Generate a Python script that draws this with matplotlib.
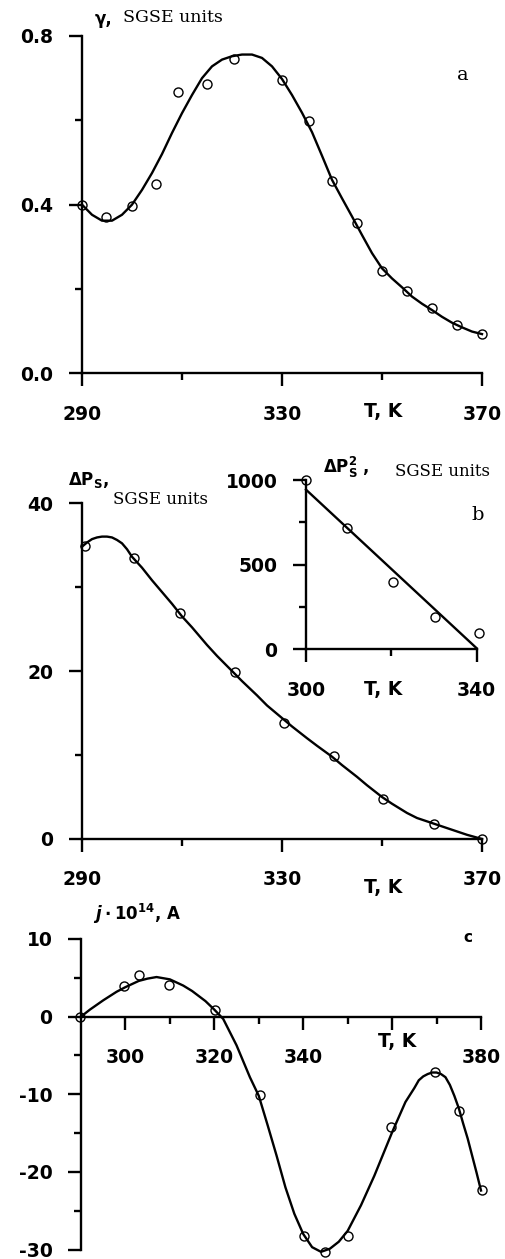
import matplotlib
matplotlib.use("Agg")
import matplotlib.pyplot as plt

plt.rcParams['mathtext.fontset'] = 'custom'
plt.rcParams['mathtext.rm'] = 'DejaVu Sans:bold'
plt.rcParams['mathtext.it'] = 'DejaVu Sans:italic:bold'
plt.rcParams['mathtext.bf'] = 'DejaVu Sans:bold'

# panel a: gamma(T), measured points and drawn curve
t_a = [290, 294.8, 300, 304.7, 309.1, 315, 320.3, 330, 335.3, 340, 345, 350, 355, 360, 365, 370]
gamma_a = [0.40, 0.371, 0.397, 0.45, 0.668, 0.687, 0.746, 0.696, 0.599, 0.456, 0.357,
           0.243, 0.195, 0.156, 0.114, 0.093]
t_a_curve = [290, 292, 294, 296, 298, 300, 302, 304, 306, 308, 310, 312, 314, 316, 318, 320,
             322, 324, 326, 328, 330, 332, 334, 336, 338, 340, 342, 344, 346, 348, 350, 352,
             354, 356, 358, 360, 362, 364, 366, 368, 370]
gamma_a_curve = [0.400, 0.376, 0.362, 0.362, 0.376, 0.400, 0.435, 0.475, 0.520, 0.570, 0.617,
                 0.660, 0.700, 0.728, 0.744, 0.752, 0.756, 0.756, 0.748, 0.728, 0.698, 0.660,
                 0.618, 0.572, 0.516, 0.459, 0.415, 0.372, 0.328, 0.285, 0.249, 0.225, 0.204,
                 0.182, 0.165, 0.150, 0.134, 0.120, 0.109, 0.099, 0.093]

# panel b: delta Ps(T)
t_b = [290.6, 300.3, 309.5, 320.5, 330.3, 340.3, 350.1, 360.3, 370]
dps_b = [34.9, 33.4, 26.9, 19.9, 13.8, 9.9, 4.8, 1.8, 0.0]
t_b_curve = [290, 291, 292, 293, 294, 295, 296, 297, 298, 299, 300, 302, 304, 306, 308, 310,
             312, 315, 317, 320, 322, 325, 327, 330, 332, 335, 337, 340, 342, 345, 347, 350,
             352, 355, 357, 360, 362, 365, 367, 370]
dps_b_curve = [34.8, 35.3, 35.7, 35.9, 36.0, 36.0, 35.9, 35.6, 35.2, 34.5, 33.6, 32.3, 30.8,
               29.4, 28.0, 26.5, 25.2, 23.1, 21.8, 20.0, 18.8, 17.1, 15.9, 14.4, 13.4, 12.0,
               11.1, 9.8, 8.8, 7.4, 6.4, 5.0, 4.2, 3.1, 2.5, 1.9, 1.5, 0.9, 0.5, 0.0]

# inset: delta Ps^2(T)
t_in = [300.1, 309.5, 320.3, 330.2, 340.5]
dps2_in = [1000, 719, 400, 193, 95]
t_in_line = [300, 340]
dps2_in_line = [943, 6]

# panel c: j(T)
t_c = [289.8, 299.7, 303.1, 309.7, 320.1, 330.2, 340.2, 345, 350.1, 359.7, 369.7, 375, 380.2]
j_c = [0.0, 3.9, 5.4, 4.1, 0.9, -10.1, -28.2, -30.3, -28.2, -14.2, -7.1, -12.2, -22.3]
t_c_curve = [290, 292, 295, 298, 300, 303, 305, 307, 310, 313, 315, 318, 320, 322, 325, 328,
             330, 332, 334, 336, 338, 340, 342, 344, 346, 348, 350, 353, 356, 360, 363, 365,
             366, 367, 368, 369, 370, 371, 372, 373, 374, 375, 376, 377, 378, 379, 380]
j_c_curve = [0.0, 0.9, 2.1, 3.2, 3.8, 4.6, 4.9, 5.1, 4.8, 4.0, 3.3, 2.0, 0.9, -0.3, -3.7,
             -7.8, -10.2, -14.0, -17.9, -22.0, -25.4, -28.0, -29.7, -30.3, -29.9, -29.0,
             -27.6, -24.3, -20.5, -14.9, -11.0, -9.2, -8.2, -7.7, -7.4, -7.2, -7.2, -7.4,
             -7.8, -8.8, -10.2, -11.8, -13.8, -15.7, -17.9, -20.1, -22.4]

W, H = 505, 1259
fig = plt.figure(figsize=(W / 100, H / 100), dpi=100)
fig.patch.set_facecolor('white')

LW = 1.7
TICKFONT = dict(family='DejaVu Sans', weight='bold', size=13.5)


def px(x, y):
    return x / W, 1 - y / H


def rect(x0, y0, x1, y1):
    return [x0 / W, 1 - y1 / H, (x1 - x0) / W, (y1 - y0) / H]


def style(ax, xmaj, xmin, ymaj, ymin, xlabels, ylabels):
    for s in ['top', 'right']:
        ax.spines[s].set_visible(False)
    for s in ['left', 'bottom']:
        ax.spines[s].set_linewidth(LW)
    ax.set_xticks(xmaj)
    ax.set_xticks(xmin, minor=True)
    ax.set_yticks(ymaj)
    ax.set_yticks(ymin, minor=True)
    ax.set_xticklabels(xlabels, fontdict=TICKFONT)
    ax.set_yticklabels(ylabels, fontdict=TICKFONT)
    ax.tick_params(which='major', direction='out', length=9.5, width=LW)
    ax.tick_params(which='minor', direction='out', length=5, width=LW)
    ax.tick_params(axis='x', which='major', pad=13)
    ax.tick_params(axis='y', which='major', pad=11)
    ax.set_facecolor('none')


def plot_data(ax, tc, yc, tp, yp):
    ax.plot(tc, yc, color='black', lw=LW, clip_on=False, zorder=2)
    ax.plot(tp, yp, 'o', ms=6.5, mfc='none', mec='black', mew=1.0, clip_on=False, zorder=3)


# ---- panel a
ax_a = fig.add_axes(rect(82, 36, 482, 373.3))
plot_data(ax_a, t_a_curve, gamma_a_curve, t_a, gamma_a)
ax_a.set_xlim(290, 370)
ax_a.set_ylim(0, 0.8)
style(ax_a, [290, 330, 370], [310, 350], [0, 0.4, 0.8], [0.2, 0.6],
      ['290', '330', '370'], ['0.0', '0.4', '0.8'])
fig.text(*px(95, 19), 'γ,', ha='left', va='center', family='DejaVu Sans', weight='bold', size=12)
fig.text(*px(123, 18), 'SGSE units', ha='left', va='center', family='DejaVu Serif', size=12.5)
fig.text(*px(463, 75), 'a', ha='center', va='center', family='DejaVu Serif', size=14)
fig.text(*px(383, 412), 'T, K', ha='center', va='center', **TICKFONT)

# ---- panel b
ax_b = fig.add_axes(rect(82, 503, 482, 839))
plot_data(ax_b, t_b_curve, dps_b_curve, t_b, dps_b)
ax_b.set_xlim(290, 370)
ax_b.set_ylim(0, 40)
style(ax_b, [290, 330, 370], [310, 350], [0, 20, 40], [10, 30],
      ['290', '330', '370'], ['0', '20', '40'])
fig.text(*px(68, 480), r'$\mathrm{\Delta P_S}$,', ha='left', va='center', size=12, weight='bold')
fig.text(*px(113, 499), 'SGSE units', ha='left', va='center', family='DejaVu Serif', size=12)
fig.text(*px(478, 515), 'b', ha='center', va='center', family='DejaVu Serif', size=14)
fig.text(*px(383, 887), 'T, K', ha='center', va='center', **TICKFONT)

# ---- inset of panel b
ax_in = fig.add_axes(rect(306, 480, 476.7, 649.3))
ax_in.plot(t_in_line, dps2_in_line, color='black', lw=LW, clip_on=False, zorder=2)
ax_in.plot(t_in, dps2_in, 'o', ms=6.5, mfc='none', mec='black', mew=1.0, clip_on=False, zorder=3)
ax_in.set_xlim(300, 340)
ax_in.set_ylim(0, 1000)
style(ax_in, [300, 340], [320], [0, 500, 1000], [250, 750],
      ['300', '340'], ['0', '500', '1000'])
fig.text(*px(323, 467), r'$\mathrm{\Delta P_S^2}$ ,', ha='left', va='center', size=12,
         weight='bold')
fig.text(*px(395, 472), 'SGSE units', ha='left', va='center', family='DejaVu Serif', size=12)
fig.text(*px(383, 690), 'T, K', ha='center', va='center', **TICKFONT)

# ---- panel c (x axis runs along j = 0)
ax_c = fig.add_axes(rect(81, 939, 481, 1249.5))
ax_c.spines['bottom'].set_position(('data', 0))
plot_data(ax_c, t_c_curve, j_c_curve, t_c, j_c)
ax_c.set_xlim(290, 380)
ax_c.set_ylim(-30, 10)
style(ax_c, [300, 320, 340, 360, 380], [310, 330, 350, 370], [-30, -20, -10, 0, 10],
      [-25, -15, -5, 5], ['300', '320', '340', '', '380'], ['-30', '-20', '-10', '0', '10'])
fig.text(*px(93, 914), r'$j\cdot\mathrm{10^{14}}$, A', ha='left', va='center', size=12,
         weight='bold')
fig.text(*px(468, 937), 'c', ha='center', va='center', family='DejaVu Sans', weight='bold', size=11)
fig.text(*px(397, 1042), 'T, K', ha='center', va='center', **TICKFONT)

fig.savefig('out.png', dpi=100, facecolor='white')
